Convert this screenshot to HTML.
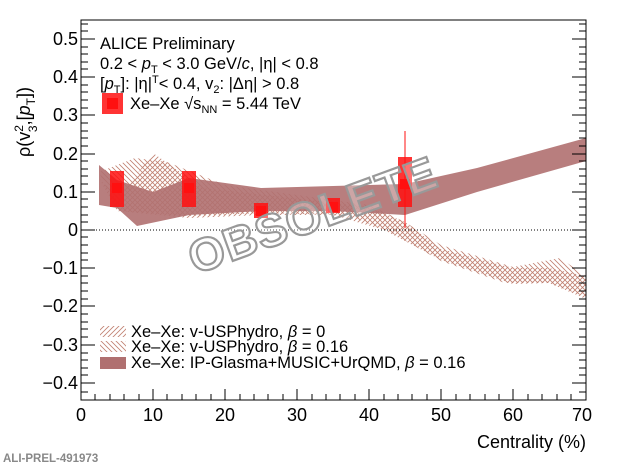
<!DOCTYPE html>
<html><head><meta charset="utf-8"><style>
body{margin:0;background:#fff}
svg text{font-family:"Liberation Sans",sans-serif}
</style></head><body>
<svg width="620" height="466" viewBox="0 0 620 466" xmlns="http://www.w3.org/2000/svg">
<defs>
<pattern id="h1" width="5" height="5" patternUnits="userSpaceOnUse"><path d="M0,5 L5,0 M-1,1 L1,-1 M4,6 L6,4" stroke="#c08070" stroke-width="0.8"/></pattern>
<pattern id="h2" width="5" height="5" patternUnits="userSpaceOnUse"><path d="M0,0 L5,5 M-1,4 L1,6 M4,-1 L6,1" stroke="#c08070" stroke-width="0.8"/></pattern>
</defs>
<path d="M99,178 L117,200 L153,153 L203,188 L275,196 L369,207 L405,222 L441,249 L513,268 L549,268 L586,276 L586,299 L549,283 L513,284 L441,260 L384,230 L333,215 L261,215 L189,218 L117,211 Z" fill="url(#h1)"/>
<path d="M99,172 L135,158 L167,162 L225,185 L297,195 L369,205 L405,222 L441,245 L513,267 L560,258 L586,276 L586,297 L549,283 L505,283 L441,261 L390,232 L347,215 L261,213 L189,216 L117,211 Z" fill="url(#h2)"/>
<path d="M99,165 L117,180 L153,192 L189,178 L261,188 L333,186 L405,184 L477,168 L586,138 L586,161 L477,192 L405,215 L333,211 L261,211 L189,215 L137,226 L117,208 L99,205 Z" fill="#b07070" opacity="0.9"/>
<line x1="81" y1="230" x2="586" y2="230" stroke="#000" stroke-width="1" stroke-dasharray="1,2"/>
<g fill="#ff1010">
<rect x="110" y="171" width="14" height="36" opacity="0.85"/><rect x="112" y="183" width="10" height="10"/>
<rect x="182" y="171" width="14" height="36" opacity="0.85"/><rect x="184" y="183" width="10" height="10"/>
<rect x="254" y="203" width="14" height="15" opacity="0.85"/><rect x="256" y="206" width="10" height="10"/>
<rect x="326" y="198" width="14" height="15" opacity="0.85"/><rect x="328" y="202" width="10" height="10"/>
<rect x="398" y="157" width="14" height="50" opacity="0.85"/><rect x="400" y="179" width="10" height="10"/>
</g>
<line x1="405" y1="131" x2="405" y2="228" stroke="#ff1010" stroke-width="1"/>
<text x="318" y="230" transform="rotate(-20 318 230)" font-size="46" font-weight="bold" text-anchor="middle" fill="#fff" fill-opacity="0.3" stroke="#999" stroke-width="2.2" letter-spacing="1">OBSOLETE</text>
<rect x="81" y="20" width="505" height="380" fill="none" stroke="#000" stroke-width="1"/>
<g stroke="#000" stroke-width="1">
<path d="M81,383h14M81,345h14M81,306h14M81,268h14M81,230h14M81,192h14M81,154h14M81,115h14M81,77h14M81,39h14
M586,383h-14M586,345h-14M586,306h-14M586,268h-14M586,230h-14M586,192h-14M586,154h-14M586,115h-14M586,77h-14M586,39h-14
M81,392h7M81,375h7M81,368h7M81,360h7M81,353h7M81,337h7M81,329h7M81,322h7M81,314h7M81,299h7M81,291h7M81,283h7M81,276h7M81,260h7M81,253h7M81,245h7M81,237h7M81,222h7M81,215h7M81,207h7M81,199h7M81,184h7M81,176h7M81,169h7M81,161h7M81,146h7M81,138h7M81,131h7M81,123h7M81,108h7M81,100h7M81,92h7M81,85h7M81,69h7M81,62h7M81,54h7M81,47h7M81,31h7M81,24h7
M586,392h-7M586,375h-7M586,368h-7M586,360h-7M586,353h-7M586,337h-7M586,329h-7M586,322h-7M586,314h-7M586,299h-7M586,291h-7M586,283h-7M586,276h-7M586,260h-7M586,253h-7M586,245h-7M586,237h-7M586,222h-7M586,215h-7M586,207h-7M586,199h-7M586,184h-7M586,176h-7M586,169h-7M586,161h-7M586,146h-7M586,138h-7M586,131h-7M586,123h-7M586,108h-7M586,100h-7M586,92h-7M586,85h-7M586,69h-7M586,62h-7M586,54h-7M586,47h-7M586,31h-7M586,24h-7"/>
<path d="M81,400v-11M153,400v-11M225,400v-11M297,400v-11M369,400v-11M441,400v-11M513,400v-11M586,400v-11
M95,400v-6M110,400v-6M124,400v-6M139,400v-6M167,400v-6M182,400v-6M196,400v-6M211,400v-6M240,400v-6M254,400v-6M268,400v-6M283,400v-6M312,400v-6M326,400v-6M340,400v-6M355,400v-6M384,400v-6M398,400v-6M412,400v-6M427,400v-6M456,400v-6M470,400v-6M485,400v-6M499,400v-6M528,400v-6M542,400v-6M557,400v-6M571,400v-6"/>
</g>
<g font-size="18" text-anchor="end" fill="#000">
<text x="78" y="45">0.5</text><text x="78" y="83">0.4</text><text x="78" y="121">0.3</text><text x="78" y="160">0.2</text><text x="78" y="198">0.1</text><text x="78" y="236">0</text><text x="78" y="274">−0.1</text><text x="78" y="312">−0.2</text><text x="78" y="351">−0.3</text><text x="78" y="389">−0.4</text>
</g>
<g font-size="18" text-anchor="middle">
<text x="81" y="421">0</text><text x="153" y="421">10</text><text x="225" y="421">20</text><text x="297" y="421">30</text><text x="369" y="421">40</text><text x="441" y="421">50</text><text x="513" y="421">60</text><text x="582" y="421">70</text>
</g>
<text x="586" y="448" font-size="18" text-anchor="end">Centrality (%)</text>
<text transform="translate(30,122) rotate(-90)" font-size="18" text-anchor="middle">ρ(v<tspan font-size="12" dy="-7">2</tspan><tspan font-size="12" dx="-7" dy="14">3</tspan><tspan dy="-7">,[</tspan><tspan font-style="italic">p</tspan><tspan font-size="12" dy="5">T</tspan><tspan dy="-5">])</tspan></text>
<text x="3" y="462" font-family="Liberation Mono,monospace" font-size="11.5" font-weight="bold" fill="#888">ALI-PREL-491973</text>
<g font-size="16.5">
<text x="100" y="49">ALICE Preliminary</text>
<text x="100" y="69">0.2 &lt; <tspan font-style="italic">p</tspan><tspan font-size="11" dy="4">T</tspan><tspan dy="-4"> &lt; 3.0 GeV/</tspan><tspan font-style="italic">c</tspan>, |η| &lt; 0.8</text>
<text x="100" y="89">[<tspan font-style="italic">p</tspan><tspan font-size="11" dy="4">T</tspan><tspan dy="-4">]: |η|</tspan><tspan font-size="11" dy="-6">T</tspan><tspan dy="6">&lt; 0.4, v</tspan><tspan font-size="11" dy="4">2</tspan><tspan dy="-4">: |Δη| &gt; 0.8</tspan></text>
<text x="130" y="109">Xe–Xe √s<tspan font-size="11" dy="4">NN</tspan><tspan dy="-4"> = 5.44 TeV</tspan></text>
<text x="131" y="337">Xe–Xe: v-USPhydro, <tspan font-style="italic">β</tspan> = 0</text>
<text x="131" y="352">Xe–Xe: v-USPhydro, <tspan font-style="italic">β</tspan> = 0.16</text>
<text x="131" y="368">Xe–Xe: IP-Glasma+MUSIC+UrQMD, <tspan font-style="italic">β</tspan> = 0.16</text>
</g>
<rect x="102" y="93" width="21" height="21" fill="#ff1010" opacity="0.85"/><rect x="107" y="98" width="11" height="11" fill="#ff1010"/>
<rect x="100" y="326" width="26" height="11" fill="url(#h1)"/>
<rect x="100" y="341" width="26" height="11" fill="url(#h2)"/>
<rect x="100" y="357" width="26" height="12" fill="#b07070"/>
</svg>
</body></html>
